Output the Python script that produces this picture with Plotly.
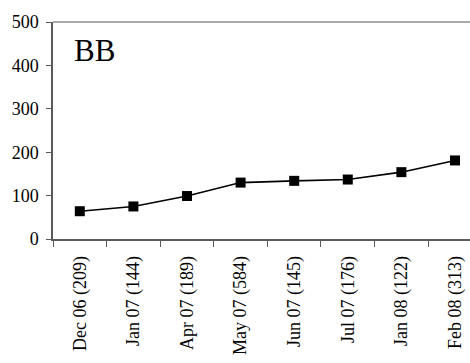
import plotly.graph_objects as go

# Survey rounds (sample size in brackets) and the BB index for each
categories = ["Dec 06 (209)", "Jan 07 (144)", "Apr 07 (189)", "May 07 (584)",
              "Jun 07 (145)", "Jul 07 (176)", "Jan 08 (122)", "Feb 08 (313)"]
bb_values = [64, 75, 99, 130, 134, 137, 154, 181]
y_ticks = [0, 100, 200, 300, 400, 500]

serif = "Liberation Serif, Times New Roman, serif"
axis_col = "#5a5a5a"

fig = go.Figure()
fig.add_trace(go.Scatter(
    x=categories, y=bb_values, mode="lines+markers",
    line=dict(color="black", width=1.6),
    marker=dict(symbol="square", size=10, color="black"),
    showlegend=False,
))

fig.update_layout(
    width=470, height=363,
    margin=dict(l=53, r=0, t=22, b=124),
    paper_bgcolor="white", plot_bgcolor="white",
    font=dict(family=serif, color="black", size=13),
    xaxis=dict(
        type="category", range=[-0.5, 7.28],
        showgrid=False, zeroline=False,
        showline=True, linecolor=axis_col, linewidth=1.5,
        ticks="outside", ticklen=6, tickcolor=axis_col, tickwidth=1.2,
        tickson="boundaries", tickangle=-90, ticklabelstandoff=8,
        tickfont=dict(family=serif, size=18, color="black"),
    ),
    yaxis=dict(
        range=[0, 500], tickvals=y_ticks,
        showgrid=False, zeroline=False,
        showline=True, linecolor=axis_col, linewidth=1.5,
        ticks="outside", ticklen=5, tickcolor=axis_col, tickwidth=1.2,
        ticklabelstandoff=4,
        tickfont=dict(family=serif, size=18, color="black"),
    ),
    shapes=[dict(type="line", xref="paper", yref="paper",
                 x0=0, x1=1, y0=1, y1=1,
                 line=dict(color="#8c8c8c", width=1.5))],
    annotations=[dict(text="BB", xref="paper", yref="paper",
                      x=0.045, y=0.959, xanchor="left", yanchor="top",
                      showarrow=False,
                      font=dict(family=serif, size=31, color="black"))],
)

fig.write_html("out.html")
